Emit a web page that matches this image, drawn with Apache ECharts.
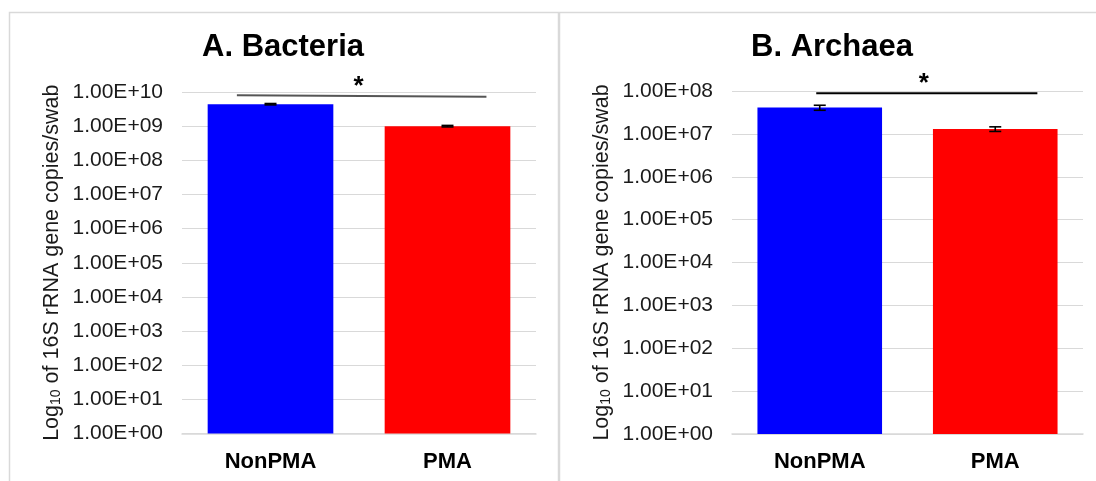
<!DOCTYPE html>
<html>
<head>
<meta charset="utf-8">
<script src="https://cdn.jsdelivr.net/npm/echarts@6/dist/echarts.min.js"></script>
<style>
  html, body { margin: 0; padding: 0; background: #ffffff; }
  #chart { width: 1096px; height: 481px; }
</style>
</head>
<body>
<div id="chart"></div>
<script>
// Sample groups on the x axis
const categories = ['NonPMA', 'PMA'];

// 16S rRNA gene copies per swab (mean and standard error)
const bacteriaMean = [4.4e9, 1.0e9];
const bacteriaErr = [0.2e9, 0.05e9];
const archaeaMean = [4.1e7, 1.3e7];
const archaeaErr = [0.55e7, 0.16e7];

// Significance bracket: [startCategory, startOffset(band), startValue, endCategory, endOffset(band), endValue]
const bacteriaBracket = [0, -0.19, 8.0e9, 1, 0.22, 7.2e9];
const archaeaBracket = [0, -0.02, 8.9e7, 1, 0.24, 8.9e7];

// Axis ranges (powers of ten)
const bacteriaAxisMax = 1e10;
const archaeaAxisMax = 1e8;

const titles = ['A. Bacteria', 'B. Archaea'];
const barColors = ['#0000ff', '#ff0000'];

const FONT = "'Liberation Sans', Arial, sans-serif";
const GRID_COLOR = '#d9d9d9';
const TEXT_COLOR = '#1a1a1a';

function sciLabel(v) {
  const e = Math.round(Math.log10(v));
  return '1.00E+' + String(e).padStart(2, '0');
}

function yAxisFor(gridIndex, max) {
  return {
    type: 'log',
    logBase: 10,
    gridIndex: gridIndex,
    min: 1,
    max: max,
    interval: 1,
    axisLine: { show: false },
    axisTick: { show: false },
    splitLine: { lineStyle: { color: GRID_COLOR, width: 1 } },
    axisLabel: {
      formatter: sciLabel,
      fontFamily: FONT,
      fontSize: 21,
      color: TEXT_COLOR,
      margin: 19
    },
    name: '{a|Log}{s|10}{a| of 16S rRNA gene copies/swab}',
    nameLocation: 'middle',
    nameRotate: 90,
    nameGap: 118,
    nameTextStyle: {
      color: TEXT_COLOR,
      rich: {
        a: { fontFamily: FONT, fontSize: 21.5, color: TEXT_COLOR, lineHeight: 24 },
        s: { fontFamily: FONT, fontSize: 14, color: TEXT_COLOR, lineHeight: 24, padding: [9, 0, 0, 0] }
      }
    }
  };
}

function xAxisFor(gridIndex) {
  return {
    type: 'category',
    gridIndex: gridIndex,
    data: categories,
    axisLine: { lineStyle: { color: GRID_COLOR, width: 1.5 } },
    axisTick: { show: false },
    axisLabel: {
      fontFamily: FONT,
      fontSize: 22,
      fontWeight: 'bold',
      color: '#000000',
      margin: 17
    }
  };
}

function barSeries(idx, means) {
  return {
    type: 'bar',
    xAxisIndex: idx,
    yAxisIndex: idx,
    barWidth: '71%',
    data: means.map((v, i) => ({ value: v, itemStyle: { color: barColors[i] } })),
    silent: true
  };
}

function errorSeries(idx, means, errs) {
  return {
    type: 'custom',
    xAxisIndex: idx,
    yAxisIndex: idx,
    silent: true,
    z: 5,
    data: means.map((v, i) => [i, v - errs[i], v + errs[i]]),
    renderItem: function (params, api) {
      const lo = api.coord([api.value(0), api.value(1)]);
      const hi = api.coord([api.value(0), api.value(2)]);
      const half = 6;
      const style = { stroke: '#000000', lineWidth: 1.6 };
      return {
        type: 'group',
        children: [
          { type: 'line', shape: { x1: lo[0], y1: lo[1], x2: hi[0], y2: hi[1] }, style: style },
          { type: 'line', shape: { x1: lo[0] - half, y1: lo[1], x2: lo[0] + half, y2: lo[1] }, style: style },
          { type: 'line', shape: { x1: hi[0] - half, y1: hi[1], x2: hi[0] + half, y2: hi[1] }, style: style }
        ]
      };
    }
  };
}

function bracketSeries(idx, bracket, color) {
  return {
    type: 'custom',
    xAxisIndex: idx,
    yAxisIndex: idx,
    silent: true,
    z: 6,
    data: [bracket],
    renderItem: function (params, api) {
      const band = api.size([1, 0])[0];
      const p0 = api.coord([api.value(0), api.value(2)]);
      const p1 = api.coord([api.value(3), api.value(5)]);
      const x0 = p0[0] + api.value(1) * band;
      const x1 = p1[0] + api.value(4) * band;
      const mx = (x0 + x1) / 2;
      const my = (p0[1] + p1[1]) / 2;
      return {
        type: 'group',
        children: [
          { type: 'line', shape: { x1: x0, y1: p0[1], x2: x1, y2: p1[1] },
            style: { stroke: color, lineWidth: 2 } },
          { type: 'text', x: mx - 3, y: my - 9,
            style: { text: '*', fill: '#000000', fontFamily: FONT, fontSize: 26,
                     fontWeight: 'bold', align: 'center', verticalAlign: 'middle' } }
        ]
      };
    }
  };
}

const chart = echarts.init(document.getElementById('chart'), null, { renderer: 'canvas' });

chart.setOption({
  animation: false,
  backgroundColor: '#ffffff',
  grid: [
    { left: 182, top: 92, width: 354, height: 341.5 },
    { left: 732, top: 91, width: 351, height: 343 }
  ],
  xAxis: [xAxisFor(0), xAxisFor(1)],
  yAxis: [yAxisFor(0, bacteriaAxisMax), yAxisFor(1, archaeaAxisMax)],
  graphic: [
    { type: 'rect', z: -1, shape: { x: 9.5, y: 12.5, width: 1200, height: 600 },
      style: { fill: 'none', stroke: GRID_COLOR, lineWidth: 1.5 } },
    { type: 'line', z: -1, shape: { x1: 559, y1: 12.5, x2: 559, y2: 481 },
      style: { stroke: GRID_COLOR, lineWidth: 2.5 } },
    { type: 'text', x: 283, y: 47,
      style: { text: titles[0], fontFamily: FONT, fontSize: 31, fontWeight: 'bold',
               fill: '#000000', align: 'center', verticalAlign: 'middle' } },
    { type: 'text', x: 832, y: 47,
      style: { text: titles[1], fontFamily: FONT, fontSize: 31, fontWeight: 'bold',
               fill: '#000000', align: 'center', verticalAlign: 'middle' } }
  ],
  series: [
    barSeries(0, bacteriaMean),
    errorSeries(0, bacteriaMean, bacteriaErr),
    bracketSeries(0, bacteriaBracket, '#555555'),
    barSeries(1, archaeaMean),
    errorSeries(1, archaeaMean, archaeaErr),
    bracketSeries(1, archaeaBracket, '#000000')
  ]
});
</script>
</body>
</html>
